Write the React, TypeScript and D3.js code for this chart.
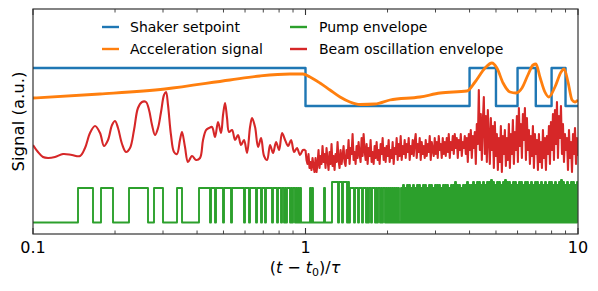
import React from 'react';
import * as d3 from 'd3';

const W = 598;
const H = 291;
const PLOT = { left: 33, right: 578, top: 9, bottom: 234 };

const xTickValues = [0.1, 1, 10];
const xTickLabels = ['0.1', '1', '10'];
const xMinorTicks = [0.2, 0.3, 0.4, 0.5, 0.6, 0.7, 0.8, 0.9, 2, 3, 4, 5, 6, 7, 8, 9];

const seriesNames = ['Shaker setpoint', 'Acceleration signal', 'Pump envelope', 'Beam oscillation envelope'];
const seriesColors = ['#1f77b4', '#ff7f0e', '#2ca02c', '#d62728'];

// Shaker setpoint (step function)
const setpointT = [0.1, 1, 4, 5, 6, 7, 8, 9, 10];
const setpointV = [166, 128, 166, 128, 166, 128, 166, 128, 128];

// Acceleration signal
const accelT = [0.1, 0.176, 0.305, 0.528, 0.681, 0.877, 0.979, 1.039, 1.13, 1.23, 1.339, 1.456, 1.585, 1.8, 2.04, 2.63, 3.12, 3.91, 4.19, 4.56, 4.83, 5.04, 5.31, 5.63, 5.92, 6.23, 6.55, 6.84, 7.01, 7.25, 7.56, 7.82, 8.23, 8.67, 8.89, 9.19, 9.51, 9.75, 10];
const accelV = [136, 140, 145, 154, 158, 160, 160, 157, 151, 144, 137, 132, 129.5, 130, 134, 137, 141, 143, 152, 166, 171, 166, 151, 142, 141, 146, 159, 169, 170, 157, 142, 137, 147, 162, 165, 152, 134, 132, 134];

// Beam oscillation envelope, t < 1
const beamEarlyT = [0.1, 0.1043, 0.1088, 0.1135, 0.1204, 0.1289, 0.139, 0.1488, 0.1552, 0.1619, 0.1689, 0.1762, 0.1822, 0.1885, 0.195, 0.2, 0.2051, 0.2122, 0.2194, 0.227, 0.2348, 0.2428, 0.2512, 0.2598, 0.2666, 0.2734, 0.2804, 0.2876, 0.295, 0.3025, 0.3077, 0.3129, 0.3209, 0.3292, 0.3376, 0.3462, 0.3522, 0.3612, 0.3705, 0.3832, 0.3964, 0.4101, 0.4207, 0.4315, 0.4426, 0.4539, 0.4656, 0.4776, 0.4898, 0.4982, 0.5067, 0.5153, 0.5241, 0.5376, 0.5514, 0.5655, 0.58, 0.5949, 0.6102, 0.6259, 0.6366, 0.653, 0.6698, 0.687, 0.7046, 0.7227, 0.7413, 0.7603, 0.7798, 0.7999, 0.8204, 0.8415, 0.8631, 0.8853, 0.908, 0.9307, 0.9546, 0.979];
const beamEarlyV = [89, 82, 77, 76, 77, 80, 79, 78, 86, 101, 108, 101, 88, 94, 109, 113, 106, 90, 82, 86, 104, 126, 132, 132, 124, 109, 99, 106, 122, 139, 142, 129, 99, 82, 80, 94, 102, 87, 72, 78, 74, 76, 94, 104, 106, 107, 97, 112, 101, 119, 131, 116, 102, 104, 94, 99, 89, 94, 81, 107, 116, 107, 87, 96, 78, 74, 89, 81, 92, 84, 101, 94, 88, 94, 82, 86, 79, 84];

// Beam oscillation envelope, samples evenly spaced in log t from 1 to 10
const beamLateV = [
  84, 74, 70, 80, 66, 72, 64, 76, 68, 62,
  76, 62, 70, 84, 66, 78, 70, 88, 72, 80,
  66, 86, 74, 64, 82, 70, 90, 68, 78, 64,
  80, 72, 92, 74, 66, 84, 70, 78, 88, 72,
  68, 84, 76, 94, 70, 86, 80, 100, 74, 82,
  70, 88, 76, 92, 80, 72, 96, 78, 100, 84,
  74, 90, 70, 86, 78, 94, 72, 82, 70, 88,
  76, 92, 74, 84, 70, 90, 80, 96, 74, 86,
  72, 88, 78, 94, 72, 84, 76, 92, 70, 86,
  80, 96, 74, 90, 78, 98, 74, 88, 80, 94,
  76, 90, 82, 96, 74, 88, 80, 94, 78, 92,
  100, 76, 90, 82, 96, 74, 92, 80, 88, 76,
  94, 78, 90, 82, 98, 74, 92, 84, 78, 96,
  80, 92, 76, 98, 84, 90, 76, 96, 80, 92,
  78, 96, 82, 100, 76, 92, 84, 98, 80, 100,
  86, 96, 76, 94, 84, 100, 78, 92, 86, 98,
  80, 96, 72, 100, 84, 104, 76, 98, 86, 102,
  70, 110, 90, 144, 84, 120, 74, 112, 137, 80,
  118, 72, 124, 96, 70, 116, 84, 108, 66, 112,
  78, 100, 64, 96, 72, 108, 62, 98, 80, 104,
  68, 96, 74, 110, 66, 100, 80, 114, 70, 102,
  84, 118, 72, 126, 88, 110, 76, 120, 94, 126,
  74, 116, 84, 104, 70, 98, 78, 108, 66, 100,
  80, 94, 64, 100, 72, 92, 66, 104, 76, 96,
  64, 98, 80, 108, 70, 112, 84, 120, 74, 124,
  90, 132, 76, 118, 96, 128, 80, 110, 72, 100,
  84, 96, 64, 104, 76, 92, 62, 100, 80, 106,
  70, 96, 78,
];

// Pump envelope: level codes on a grid evenly spaced in log t from 0.1 to 10
const pumpLevels = [11.5, 46, 49, 52, 54];
const pumpRuns: [number, number][] = [
  [0, 45], [1, 15], [0, 8], [1, 12], [0, 16], [1, 19], [0, 6], [1, 9], [0, 14], [1, 5], [0, 17], [1, 11],
];
const pumpMid = [
  '0111101111', '1110111111', '1011111111', '1111011110', '1111110111',
  '1011101111', '1101111011', '1011010111', '0101101010', '1000000000',
  '1010000000', '0000100000', '0033333303', '3303333030', '1111011101',
  '1101110101', '1011101011', '0101101010', '1010101010',
];
const pumpDenseHigh = [
  1, 2, 1, 2, 2, 1, 2, 1, 2, 2, 1, 2, 2, 1, 2, 2, 1, 2, 2, 2, 1, 2, 2, 2, 1, 2, 2, 3, 2, 2, 1, 2, 2, 3, 2,
  2, 3, 2, 3, 3, 2, 3, 2, 3, 3, 4, 3, 2, 3, 3, 2, 3, 4, 3, 3, 2, 3, 3, 2, 3, 3, 2, 3, 3, 2, 3, 2, 3, 3, 2,
  3, 2, 3, 2, 3, 3, 2, 3, 2, 3, 4, 3, 2, 3, 2, 3, 3, 2, 3,
];

export default function App() {
  const x = d3.scaleLog().domain([0.1, 10]).range([PLOT.left, PLOT.right]);
  const y = d3.scaleLinear().domain([0, 225]).range([PLOT.bottom, PLOT.top]);

  const setpointData = setpointT.map((t, i) => [t, setpointV[i]] as [number, number]);
  const accelData = accelT.map((t, i) => [t, accelV[i]] as [number, number]);

  const nLate = beamLateV.length;
  const beamLate: [number, number][] = beamLateV.map((v, i) => [Math.pow(10, i / (nLate - 1)), v] as [number, number]);
  const beamEarly: [number, number][] = beamEarlyT.map((t, i) => [t, beamEarlyV[i]] as [number, number]);
  beamEarly.push(beamLate[0]);

  const codes: number[] = [];
  pumpRuns.forEach(([c, n]) => { for (let k = 0; k < n; k++) codes.push(c); });
  pumpMid.forEach((s) => s.split('').forEach((ch) => codes.push(+ch)));
  pumpDenseHigh.forEach((h) => { codes.push(0); codes.push(h); });
  const nP = codes.length;
  const pumpData: [number, number][] = codes.map((c, i) => [Math.pow(10, -1 + (2 * i) / nP), pumpLevels[c]]);
  pumpData.push([10, pumpLevels[codes[nP - 1]]]);

  const lineStep = d3.line<[number, number]>().x((d) => x(d[0])).y((d) => y(d[1])).curve(d3.curveStepAfter);
  const lineSmooth = d3.line<[number, number]>().x((d) => x(d[0])).y((d) => y(d[1])).curve(d3.curveMonotoneX);
  const lineCR = d3.line<[number, number]>().x((d) => x(d[0])).y((d) => y(d[1])).curve(d3.curveCatmullRom.alpha(0.5));
  const lineLin = d3.line<[number, number]>().x((d) => x(d[0])).y((d) => y(d[1]));

  const font = 'DejaVu Sans, Verdana, sans-serif';
  const legendRows = [27, 49];
  const legendCols = [{ x0: 102, x1: 119, tx: 130 }, { x0: 290, x1: 307, tx: 319 }];

  return (
    <svg width={W} height={H} style={{ position: 'absolute', left: 0, top: 0, background: '#fff' }} fontFamily={font}>
      <defs>
        <clipPath id="plotclip">
          <rect x={PLOT.left} y={PLOT.top} width={PLOT.right - PLOT.left} height={PLOT.bottom - PLOT.top} />
        </clipPath>
      </defs>
      <g clipPath="url(#plotclip)" fill="none" strokeLinejoin="round">
        <path d={lineStep(setpointData) || ''} stroke={seriesColors[0]} strokeWidth={2.4} />
        <path d={lineSmooth(accelData) || ''} stroke={seriesColors[1]} strokeWidth={2.8} />
        <path d={lineStep(pumpData) || ''} stroke={seriesColors[2]} strokeWidth={1.9} />
        <path d={lineCR(beamEarly) || ''} stroke={seriesColors[3]} strokeWidth={2.1} />
        <path d={lineLin(beamLate) || ''} stroke={seriesColors[3]} strokeWidth={2.1} />
      </g>
      <rect x={PLOT.left} y={PLOT.top} width={PLOT.right - PLOT.left} height={PLOT.bottom - PLOT.top} fill="none" stroke="#333" strokeWidth={1.2} />
      {xTickValues.map((t, i) => (
        <g key={'maj' + i}>
          <line x1={x(t)} x2={x(t)} y1={PLOT.bottom} y2={PLOT.bottom - 6} stroke="#333" strokeWidth={1.1} />
          <line x1={x(t)} x2={x(t)} y1={PLOT.top} y2={PLOT.top + 6} stroke="#333" strokeWidth={1.1} />
          <text x={x(t)} y={252.5} fontSize={16} textAnchor="middle" fill="#000">{xTickLabels[i]}</text>
        </g>
      ))}
      {xMinorTicks.map((t, i) => (
        <g key={'min' + i}>
          <line x1={x(t)} x2={x(t)} y1={PLOT.bottom} y2={PLOT.bottom - 3.5} stroke="#333" strokeWidth={0.9} />
          <line x1={x(t)} x2={x(t)} y1={PLOT.top} y2={PLOT.top + 3.5} stroke="#333" strokeWidth={0.9} />
        </g>
      ))}
      <text x={305} y={273} fontSize={16} textAnchor="middle" fill="#000">
        {'('}
        <tspan fontStyle="italic">t</tspan>
        {' \u2212 '}
        <tspan fontStyle="italic">t</tspan>
        <tspan fontSize={11} dy={3}>0</tspan>
        <tspan dy={-3}>{')/'}</tspan>
        <tspan fontStyle="italic">{'\u03c4'}</tspan>
      </text>
      <text transform={`translate(24,${(PLOT.top + PLOT.bottom) / 2}) rotate(-90)`} fontSize={16.5} textAnchor="middle" fill="#000">Signal (a.u.)</text>
      {seriesNames.map((name, i) => {
        const col = legendCols[Math.floor(i / 2)];
        const ry = legendRows[i % 2];
        return (
          <g key={name}>
            <line x1={col.x0} x2={col.x1} y1={ry} y2={ry} stroke={seriesColors[i]} strokeWidth={2.4} />
            <text x={col.tx} y={ry} dy="0.36em" fontSize={14} fill="#000">{name}</text>
          </g>
        );
      })}
    </svg>
  );
}
